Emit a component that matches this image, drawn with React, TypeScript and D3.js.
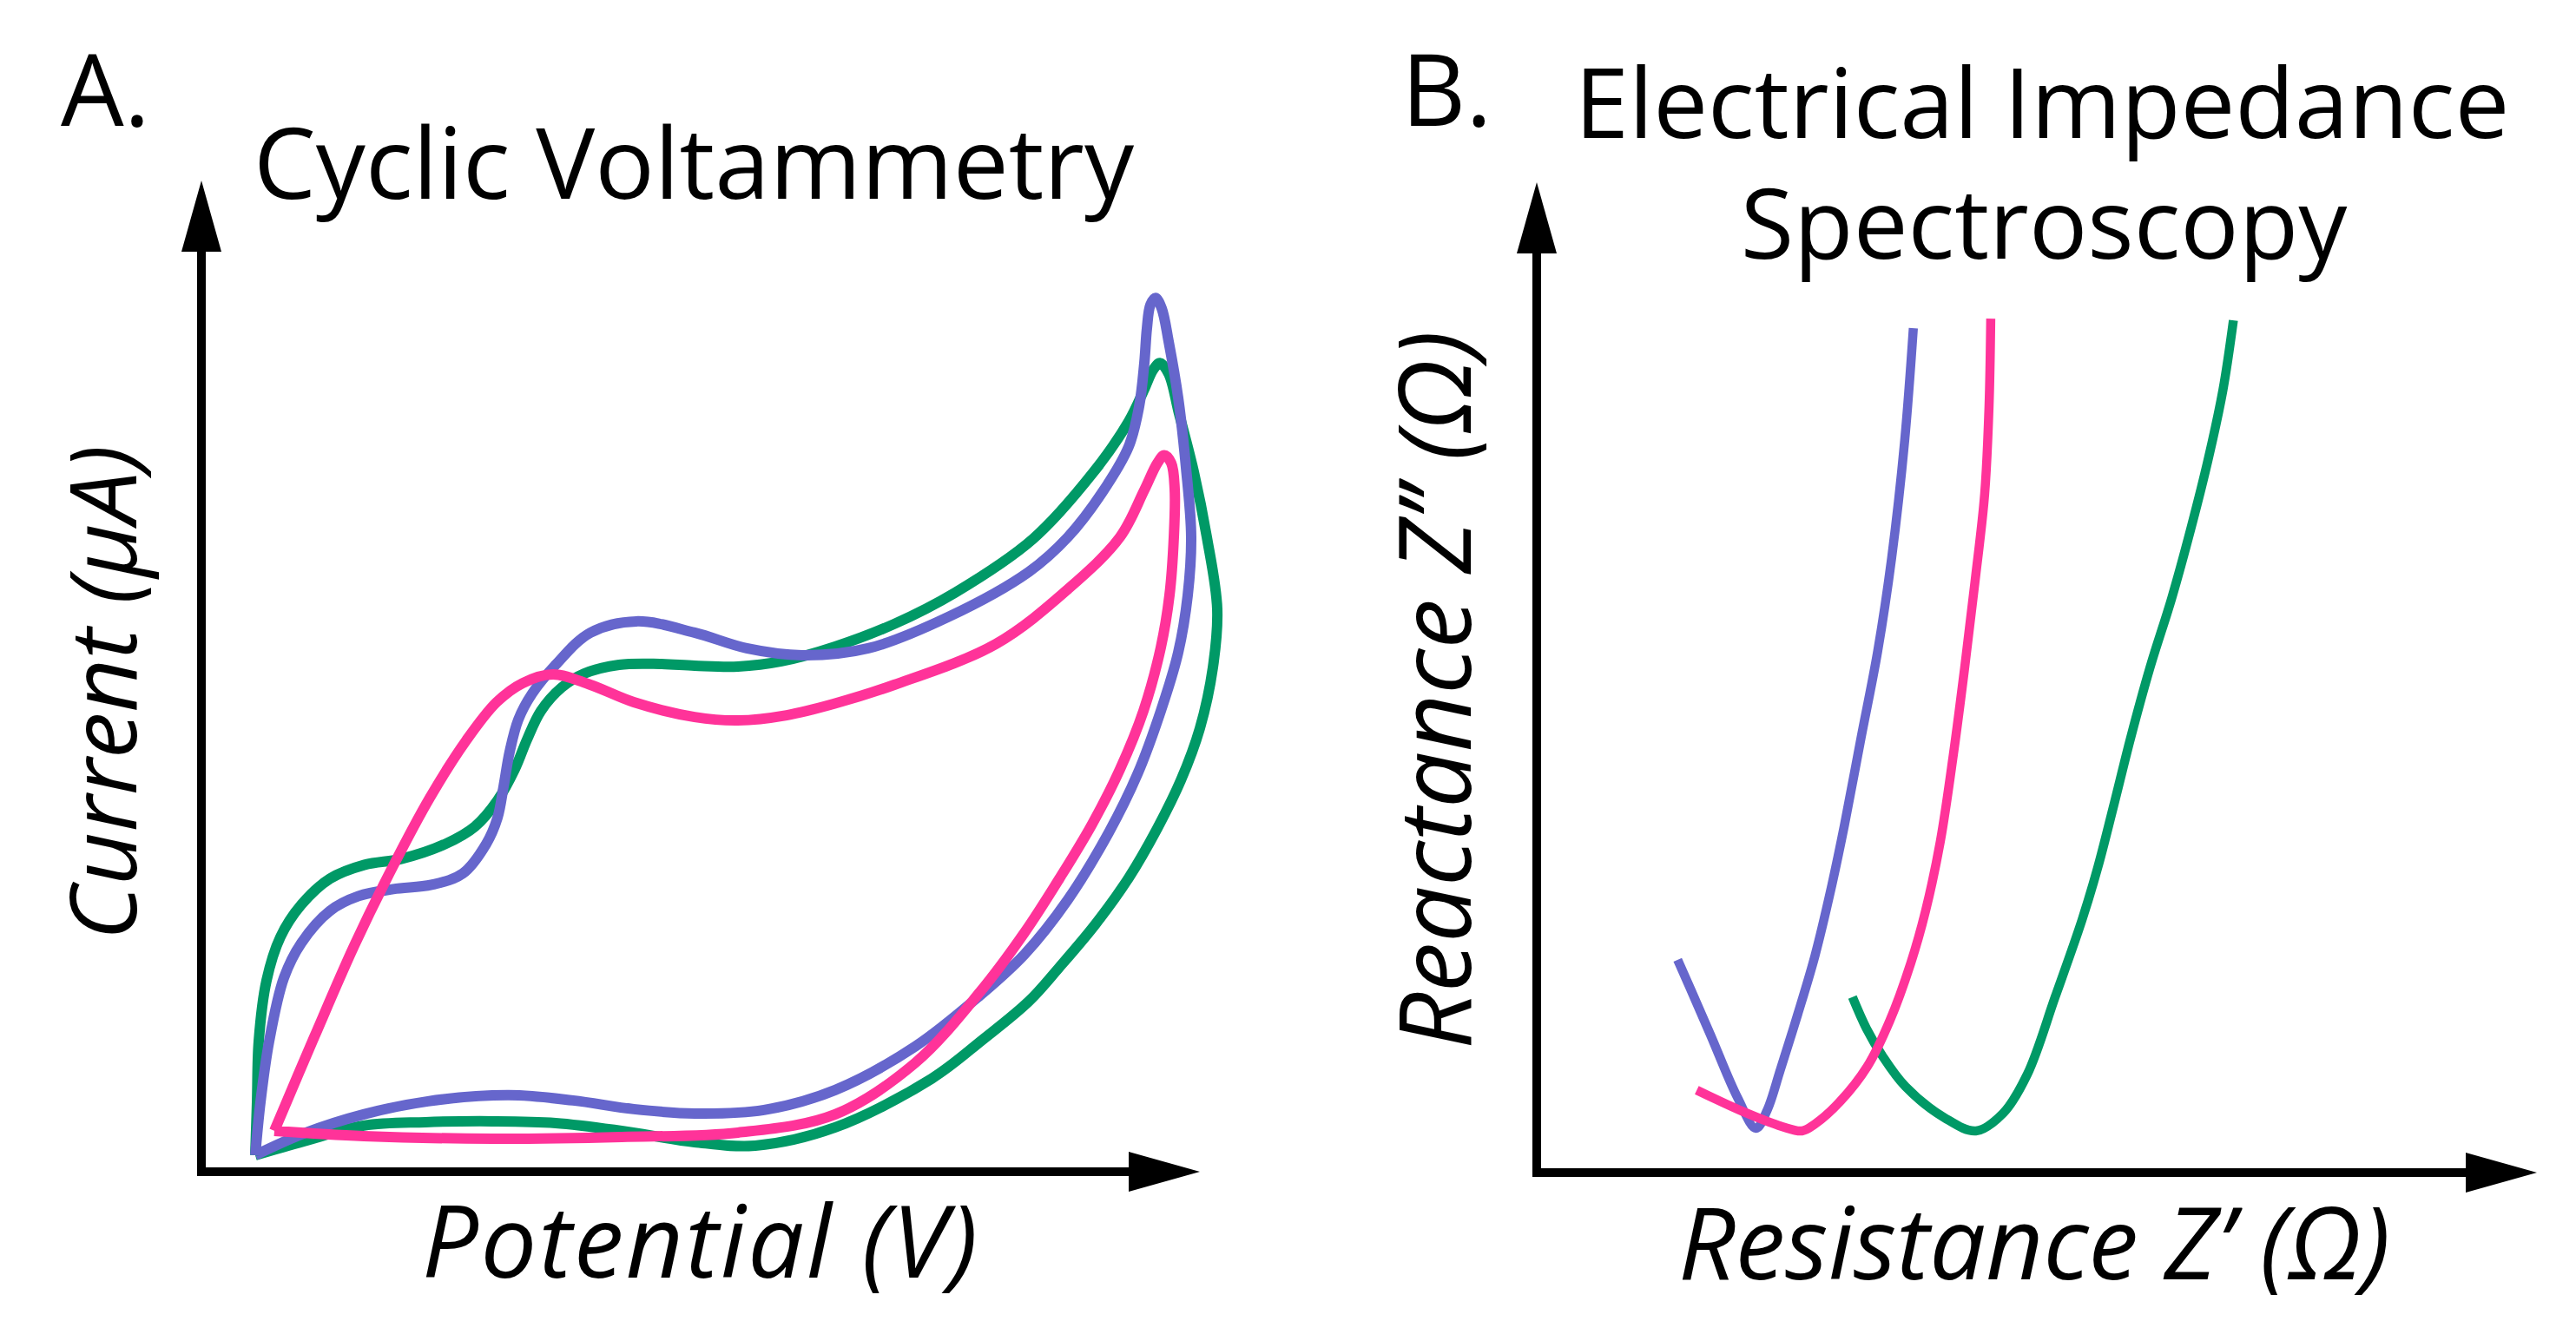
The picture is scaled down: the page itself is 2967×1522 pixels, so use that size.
import React from "react";
import * as d3 from "d3";

// ---------- Panel A: Cyclic Voltammetry (potential, current) in arbitrary units ----------
const cvBlue: [number, number][] = [
  [6.2, 1.9], [6.8, 8.0], [7.8, 15.0], [9.5, 22.3], [11.5, 26.3], [14.8, 30.0],
  [18.1, 31.7], [22.1, 32.5], [26.5, 33.0], [30.1, 34.3], [32.8, 37.7], [34.1, 40.7],
  [34.8, 44.3], [35.5, 48.3], [36.5, 52.0], [38.1, 55.0], [40.8, 58.3], [44.8, 62.0],
  [50.1, 63.3], [56.8, 62.0], [62.8, 60.2], [69.2, 59.4], [76.8, 60.2], [86.0, 63.8],
  [95.3, 69.0], [99.8, 73.0], [103.8, 78.2], [106.8, 83.4], [108.0, 88.0], [108.6, 93.0],
  [108.9, 97.0], [109.3, 99.7], [109.9, 100.5], [110.6, 99.3], [111.4, 95.5], [112.5, 89.0],
  [113.4, 81.0], [114.0, 73.0], [113.6, 66.3], [112.5, 59.7], [110.5, 53.0], [107.8, 45.7],
  [104.5, 39.0], [99.8, 31.3], [94.8, 25.0], [89.7, 20.3], [82.2, 14.4], [73.0, 9.4],
  [64.8, 7.1], [56.8, 6.7], [49.8, 7.2], [42.8, 8.2], [35.4, 8.8], [26.1, 8.1],
  [18.7, 6.6], [11.8, 4.4], [6.2, 1.9],
];

const cvGreen: [number, number][] = [
  [6.2, 1.9], [6.4, 8.0], [6.6, 15.0], [7.5, 22.0], [9.1, 27.0], [11.5, 30.7],
  [14.8, 33.7], [18.8, 35.3], [23.1, 36.0], [28.1, 37.7], [31.5, 39.7], [34.1, 42.7],
  [36.1, 46.3], [37.5, 49.7], [39.1, 53.0], [41.5, 55.7], [44.1, 57.3], [48.1, 58.3],
  [52.8, 58.4], [56.8, 58.2], [61.8, 58.1], [66.8, 58.7], [73.0, 60.4], [79.8, 63.0],
  [86.8, 66.6], [95.8, 72.8], [102.7, 80.4], [106.8, 86.3], [108.6, 90.0], [109.6, 92.2],
  [110.4, 93.0], [111.4, 91.8], [112.6, 87.2], [114.3, 80.5], [115.8, 73.0], [117.0, 64.7],
  [116.5, 58.0], [115.0, 51.0], [112.8, 45.0], [110.1, 39.5], [106.8, 33.8], [103.0, 28.5],
  [98.8, 23.5], [95.3, 19.6], [90.0, 15.2], [84.1, 10.7], [73.0, 5.1], [63.8, 3.0],
  [56.8, 3.4], [48.4, 4.7], [40.8, 5.6], [33.5, 5.8], [25.8, 5.7], [18.7, 5.3],
  [11.8, 3.5], [6.2, 1.9],
];

const cvPink: [number, number][] = [
  [8.4, 4.7], [13.0, 15.5], [17.6, 26.0], [22.0, 35.0], [26.3, 43.0], [30.5, 49.6],
  [34.0, 54.0], [37.0, 56.2], [40.5, 57.2], [44.8, 56.0], [49.8, 54.0], [56.8, 52.3],
  [61.8, 51.9], [67.4, 52.5], [72.8, 53.8], [79.8, 56.0], [91.5, 60.7], [99.8, 67.0],
  [105.8, 73.0], [108.6, 78.4], [110.1, 81.5], [110.9, 82.4], [111.7, 81.5], [112.1, 78.5],
  [112.0, 73.0], [111.5, 66.3], [110.5, 60.3], [108.5, 53.0], [105.8, 46.3], [102.6, 40.0],
  [99.0, 34.0], [94.8, 27.5], [89.7, 20.7], [82.2, 12.5], [73.0, 6.6], [61.8, 4.5],
  [48.4, 4.0], [33.5, 3.8], [18.7, 4.1], [8.4, 4.7],
];

// ---------- Panel B: Nyquist plot (Z', Z'') in arbitrary units ----------
const eisBlue: [number, number][] = [
  [16.2, 24.5], [17.7, 21.1], [20.0, 15.8], [23.1, 8.6], [25.2, 5.1], [26.5, 7.2],
  [28.0, 11.8], [30.0, 18.2], [32.0, 25.0], [33.8, 32.5], [35.4, 40.1], [37.3, 50.1],
  [39.2, 60.0], [40.8, 70.7], [42.3, 84.2], [43.3, 97.2],
];

const eisPink: [number, number][] = [
  [18.4, 9.5], [24.0, 6.9], [28.2, 5.3], [30.5, 4.8], [32.0, 5.6], [34.8, 8.1],
  [38.0, 12.2], [40.6, 17.5], [43.0, 24.1], [44.7, 30.1], [46.4, 38.1], [47.9, 48.1],
  [49.2, 58.1], [50.4, 68.1], [51.5, 78.1], [52.0, 88.1], [52.2, 98.3],
];

const eisGreen: [number, number][] = [
  [36.3, 20.2], [37.9, 16.6], [39.7, 13.5], [42.4, 9.9], [46.9, 6.3], [50.5, 4.8],
  [53.6, 6.8], [56.4, 11.3], [59.6, 20.2], [62.7, 29.1], [64.5, 35.1], [66.3, 42.1],
  [68.3, 50.1], [70.5, 58.1], [73.0, 66.1], [75.2, 74.1], [77.2, 82.1], [78.9, 90.1],
  [80.1, 98.1],
];

const COLORS = { blue: "#6666cc", green: "#009966", pink: "#ff3399" };

const W = 2967;
const H = 1522;
const FONT = "'Open Sans', 'Noto Sans', sans-serif";

function Axes({ x, y }: { x: d3.ScaleLinear<number, number>; y: d3.ScaleLinear<number, number> }) {
  const [x0, x1] = x.range();
  const [y0, y1] = y.range();
  const sw = 10;
  const aLen = 82;
  const aHalf = 23;
  return (
    <g>
      <line x1={x0} y1={y0 + sw / 2} x2={x0} y2={y1 + aLen - 2} stroke="#000" strokeWidth={sw} />
      <path d={`M${x0},${y1} L${x0 - aHalf},${y1 + aLen} L${x0 + aHalf},${y1 + aLen} Z`} fill="#000" />
      <line x1={x0 - sw / 2} y1={y0} x2={x1 - aLen + 2} y2={y0} stroke="#000" strokeWidth={sw} />
      <path d={`M${x1},${y0} L${x1 - aLen},${y0 - aHalf} L${x1 - aLen},${y0 + aHalf} Z`} fill="#000" />
    </g>
  );
}

export default function App() {
  const xA = d3.scaleLinear().domain([0, 115]).range([232, 1382]);
  const yA = d3.scaleLinear().domain([0, 114]).range([1350, 208]);
  const xB = d3.scaleLinear().domain([0, 115]).range([1770, 2922]);
  const yB = d3.scaleLinear().domain([0, 114]).range([1351, 210]);

  const lineA = d3
    .line<[number, number]>()
    .x((d) => xA(d[0]))
    .y((d) => yA(d[1]))
    .curve(d3.curveCatmullRom.alpha(0.5));
  const lineB = d3
    .line<[number, number]>()
    .x((d) => xB(d[0]))
    .y((d) => yB(d[1]))
    .curve(d3.curveCatmullRom.alpha(0.5));

  const cvSeries = [
    { data: cvGreen, color: COLORS.green },
    { data: cvBlue, color: COLORS.blue },
    { data: cvPink, color: COLORS.pink },
  ];
  const eisSeries = [
    { data: eisBlue, color: COLORS.blue },
    { data: eisGreen, color: COLORS.green },
    { data: eisPink, color: COLORS.pink },
  ];

  return (
    <svg
      width={W}
      height={H}
      viewBox={`0 0 ${W} ${H}`}
      style={{ position: "absolute", left: 0, top: 0, background: "#fff" }}
      fontFamily={FONT}
    >
      <rect x={0} y={0} width={W} height={H} fill="#fff" />

      {/* Panel A */}
      <text x={70} y={145} fontSize={115} fill="#000">A.</text>
      <text x={799} y={229} fontSize={114} textAnchor="middle" fill="#000">Cyclic Voltammetry</text>
      <Axes x={xA} y={yA} />
      {cvSeries.map((s, i) => (
        <path key={i} d={lineA(s.data) || ""} fill="none" stroke={s.color} strokeWidth={12} strokeLinejoin="round" />
      ))}
      <text x={806} y={1472} fontSize={115} fontStyle="italic" textAnchor="middle" fill="#000"
        textLength={640} lengthAdjust="spacing">Potential (V)</text>
      <text
        transform={`translate(157,798) rotate(-90)`}
        fontSize={107}
        fontStyle="italic"
        textAnchor="middle"
        fill="#000"
      >
        Current (μA)
      </text>

      {/* Panel B */}
      <text x={1614} y={145} fontSize={115} fill="#000">B.</text>
      <text x={2352} y={159} fontSize={112} textAnchor="middle" fill="#000">Electrical Impedance</text>
      <text x={2354} y={298} fontSize={112} textAnchor="middle" fill="#000">Spectroscopy</text>
      <Axes x={xB} y={yB} />
      {eisSeries.map((s, i) => (
        <path key={i} d={lineB(s.data) || ""} fill="none" stroke={s.color} strokeWidth={10.5} strokeLinejoin="round" />
      ))}
      <text x={2343} y={1474} fontSize={115} fontStyle="italic" textAnchor="middle" fill="#000">Resistance Z’ (Ω)</text>
      <text
        transform={`translate(1694,795) rotate(-90)`}
        fontSize={115}
        fontStyle="italic"
        textAnchor="middle"
        fill="#000"
      >
        Reactance Z’’ (Ω)
      </text>
    </svg>
  );
}
